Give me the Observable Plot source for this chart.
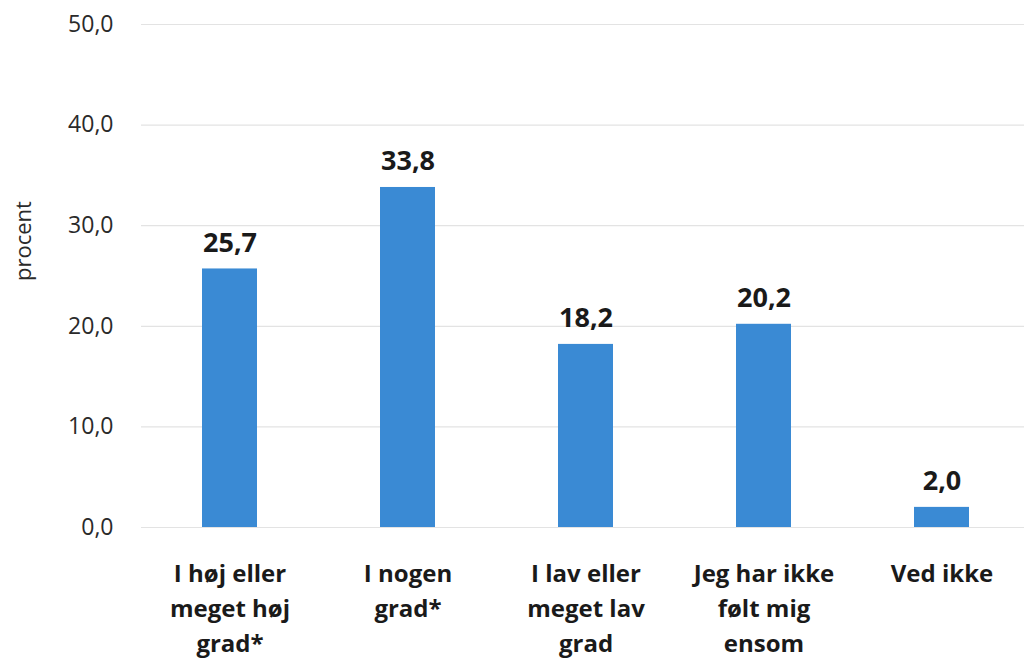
<!DOCTYPE html>
<html>
<head>
<meta charset="utf-8">
<script src="https://cdn.jsdelivr.net/npm/d3@7"></script>
<script src="https://cdn.jsdelivr.net/npm/@observablehq/plot@0.6"></script>
<style>
  html, body { margin: 0; padding: 0; background: #fff; }
  #chart svg { display: block; }
</style>
</head>
<body>
<div id="chart"></div>
<script>
const categories = ["I høj eller meget høj grad*", "I nogen grad*", "I lav eller meget lav grad", "Jeg har ikke følt mig ensom", "Ved ikke"];
const tickLabels = ["I høj eller\nmeget høj\ngrad*", "I nogen\ngrad*", "I lav eller\nmeget lav\ngrad", "Jeg har ikke\nfølt mig\nensom", "Ved ikke"];
const values = [25.7, 33.8, 18.2, 20.2, 2.0];
const yTicks = [0, 10, 20, 30, 40, 50];

const data = categories.map((c, i) => ({cat: c, label: tickLabels[i], value: values[i]}));
const fmt = d => d.toFixed(1).replace(".", ",");
const font = "'Open Sans', Lato, sans-serif";

const chart = Plot.plot({
  width: 1024,
  height: 660,
  marginTop: 24,
  marginBottom: 133,
  marginLeft: 141,
  marginRight: 0,
  style: {fontFamily: font, background: "#fff"},
  x: {domain: categories, range: [141, 1031], paddingInner: 0.69, paddingOuter: 0.345, axis: null},
  y: {domain: [0, 50], axis: null},
  marks: [
    Plot.ruleY(yTicks, {stroke: "#e3e3e3", strokeWidth: 1.2}),
    Plot.barY(data, {x: "cat", y: "value", fill: "#3a8ad4"}),
    Plot.text(data, {x: "cat", y: "value", text: d => fmt(d.value), dy: -26, fontSize: 27, fontWeight: "bold", fill: "#1a1a1a"}),
    Plot.text(data, {x: "cat", y: () => 0, text: "label", lineAnchor: "top", dy: 30, fontSize: 24, fontWeight: "bold", fill: "#1a1a1a", lineHeight: 1.46}),
    Plot.text(yTicks, {y: d => d, text: d => fmt(d), frameAnchor: "left", textAnchor: "end", dx: -28, fontSize: 23, fill: "#2a2a2a"}),
    Plot.text(["procent"], {frameAnchor: "left", rotate: -90, dx: -118, dy: 5, fontSize: 22, fill: "#2a2a2a"})
  ]
});
document.getElementById("chart").appendChild(chart);
</script>
</body>
</html>
